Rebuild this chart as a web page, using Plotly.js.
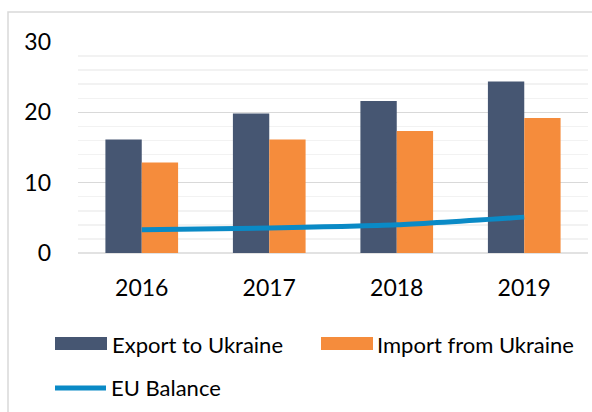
<!DOCTYPE html>
<html>
<head>
<meta charset="utf-8">
<script src="https://cdn.plot.ly/plotly-3.0.1.min.js"></script>
<style>html,body{margin:0;padding:0;background:#fff;}#chart{width:592px;height:412px;}</style>
</head>
<body>
<div id="chart"></div>
<script>
var years = ['2016', '2017', '2018', '2019'];
var seriesNames = ['Export to Ukraine', 'Import from Ukraine', 'EU Balance'];
var exportVals = [16.15, 19.85, 21.6, 24.4];
var importVals = [12.85, 16.15, 17.35, 19.2];
var balanceVals = [3.3, 3.55, 4.0, 5.1];
var yTicks = [0, 10, 20, 30];

var colors = ['#465672', '#F58C3C', '#0A8AC6'];
var FONT = 'Lato, "Open Sans", sans-serif';

var L = 78, R = 4, T = 42, B = 159, W = 592 - L - R, H = 412 - T - B;
function px(x) { return (x - L) / W; }
function py(y) { return (412 - B - y) / H; }

var traces = [
  { type: 'bar', x: years, y: exportVals, name: seriesNames[0], marker: { color: colors[0] }, showlegend: false, hoverinfo: 'skip' },
  { type: 'bar', x: years, y: importVals, name: seriesNames[1], marker: { color: colors[1] }, showlegend: false, hoverinfo: 'skip' },
  { type: 'scatter', mode: 'lines', x: years, y: balanceVals, name: seriesNames[2], line: { color: colors[2], width: 5, shape: 'spline', smoothing: 0.6 }, showlegend: false, hoverinfo: 'skip' }
];

var layout = {
  width: 592, height: 412,
  margin: { l: L, r: R, t: T, b: B },
  paper_bgcolor: '#ffffff', plot_bgcolor: '#ffffff',
  barmode: 'group', bargap: 0.43, bargroupgap: 0,
  font: { family: FONT, color: '#000000' },
  showlegend: false,
  xaxis: {
    type: 'category', showgrid: false, zeroline: false, showline: false, ticks: '',
    tickfont: { family: FONT, size: 23, color: '#000' }, ticklabelstandoff: 19, fixedrange: true
  },
  yaxis: {
    range: [0, 30], tickvals: yTicks, ticktext: yTicks.map(String), showgrid: true,
    gridcolor: '#D9D9D9', gridwidth: 1.5, zeroline: false, showline: false, ticks: '',
    minor: { dtick: 2, showgrid: true, gridcolor: '#F2F2F2', gridwidth: 1.5 },
    tickfont: { family: FONT, size: 23, color: '#000' }, ticklabelstandoff: 26, fixedrange: true
  },
  shapes: [
    { type: 'rect', xref: 'paper', yref: 'paper', x0: px(8), x1: px(600), y0: py(420), y1: py(12), line: { color: '#D9D9D9', width: 1.5 }, layer: 'below' },
    { type: 'line', xref: 'paper', yref: 'paper', x0: px(78), x1: px(588), y0: py(253), y1: py(253), line: { color: '#D9D9D9', width: 1.5 }, layer: 'below' },
    { type: 'rect', xref: 'paper', yref: 'paper', x0: px(55), x1: px(107), y0: py(350), y1: py(337), line: { width: 0 }, fillcolor: colors[0] },
    { type: 'rect', xref: 'paper', yref: 'paper', x0: px(321), x1: px(373), y0: py(350), y1: py(337), line: { width: 0 }, fillcolor: colors[1] },
    { type: 'line', xref: 'paper', yref: 'paper', x0: px(55), x1: px(106), y0: py(388), y1: py(388), line: { color: colors[2], width: 5 } }
  ],
  annotations: [
    { xref: 'paper', yref: 'paper', x: px(110), y: py(344), xanchor: 'left', yanchor: 'middle', text: seriesNames[0], showarrow: false, font: { family: FONT, size: 22, color: '#000' } },
    { xref: 'paper', yref: 'paper', x: px(375), y: py(344), xanchor: 'left', yanchor: 'middle', text: seriesNames[1], showarrow: false, font: { family: FONT, size: 22, color: '#000' } },
    { xref: 'paper', yref: 'paper', x: px(109), y: py(388), xanchor: 'left', yanchor: 'middle', text: seriesNames[2], showarrow: false, font: { family: FONT, size: 22, color: '#000' } }
  ]
};

Plotly.newPlot('chart', traces, layout, { displayModeBar: false, staticPlot: true });
</script>
</body>
</html>
